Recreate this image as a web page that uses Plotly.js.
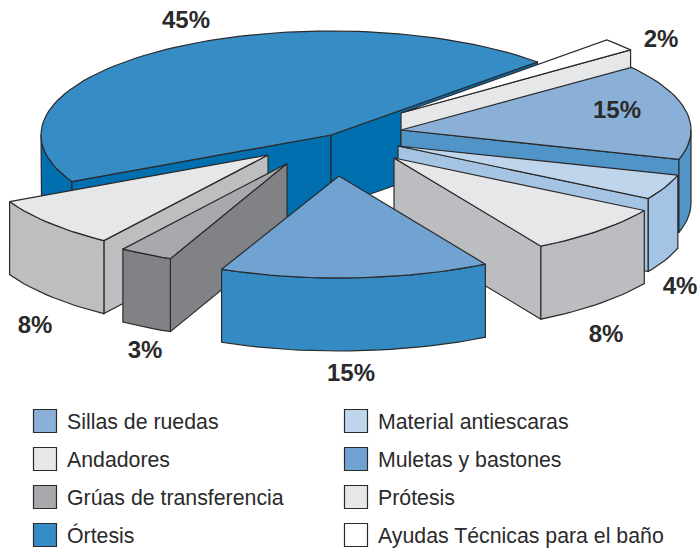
<!DOCTYPE html>
<html><head><meta charset="utf-8">
<script src="https://cdn.plot.ly/plotly-3.0.1.min.js"></script>
<style>html,body{margin:0;padding:0;background:#fff}</style></head>
<body><div id="chart" style="width:699px;height:549px"></div>
<script>
// Data, clockwise from the back edge of the largest slice
const categories = ["Órtesis","Ayudas Técnicas para el baño","Sillas de ruedas","Material antiescaras","Andadores","Muletas y bastones","Grúas de transferencia","Prótesis"];
const values = [45,2,15,4,8,15,3,8];
const percentLabels = ["45%","2%","15%","4%","8%","15%","3%","8%"];
const legendOrder = ["Sillas de ruedas","Andadores","Grúas de transferencia","Órtesis","Material antiescaras","Muletas y bastones","Prótesis","Ayudas Técnicas para el baño"];

// Styles and layout
const topColors  = ["#368cc4","#ffffff","#8ab0d7","#bfd5eb","#e6e7e9","#70a3d1","#a7a9ac","#e6e7e9"];
const wallColors = ["#006fb0","#e6e7e9","#5094c8","#a5c3e2","#bcbdc0","#348bc4","#808285","#bcbec0"];
const apexX = [331,401,401,398,394,339,287,268];
const apexY = [135,113,130,146,158,176,163.5,155];
const radiusX = [290,289,290,292,292,291,289,289];
const radiusY = [104,104,103,102,102,102,104,104];
const labelX = [186,661,617,680,606,351,145,35];
const labelY = [22,41,112,288,336,375,352,327];
const paintOrder = [0,1,2,3,4,7,6,5];
const DEPTH = 73, START_DEG = 206.6;
const INK = "#2b2a2b";

const rad = d => d*Math.PI/180;
const total = values.reduce((a,b)=>a+b,0);
let acc = START_DEG;
const spans = values.map(v => { const hi = acc; acc -= v/total*360; return [hi, acc]; });
const px = (i,a) => apexX[i] + radiusX[i]*Math.cos(rad(a));
const py = (i,a) => apexY[i] - radiusY[i]*Math.sin(rad(a));
const arc = (i,from,to) => {
  const n = Math.max(2, Math.ceil(Math.abs(from-to)/2)), xs=[], ys=[];
  for (let k=0;k<=n;k++){ const a = from+(to-from)*k/n; xs.push(px(i,a)); ys.push(py(i,a)); }
  return [xs,ys];
};
const poly = (xs,ys,fill) => ({type:"scatter",mode:"lines",x:[...xs,xs[0]],y:[...ys,ys[0]],fill:"toself",
  fillcolor:fill,line:{color:INK,width:1.2},hoverinfo:"skip",showlegend:false});

const traces = [];
paintOrder.forEach(i => {
  const [hi,lo] = spans[i];
  const wall = wallColors[i];
  // flat cut faces turned toward the viewer
  [[hi,90],[lo,-90]].forEach(([edge,turn]) => {
    if (Math.sin(rad(edge+turn)) < 0) {
      const X = px(i,edge), Y = py(i,edge);
      traces.push(poly([apexX[i],X,X,apexX[i]],[apexY[i],Y,Y+DEPTH,apexY[i]+DEPTH],wall));
    }
  });
  // curved rim where the arc lies on the front half
  [[-180,0],[180,360]].forEach(([f0,f1]) => {
    const s = Math.max(lo,f0), e = Math.min(hi,f1);
    if (e > s) {
      const [xs,ys] = arc(i,e,s);
      traces.push(poly([...xs,...xs.slice().reverse()],[...ys,...ys.slice().reverse().map(y=>y+DEPTH)],wall));
    }
  });
  // top face
  const [ax,ay] = arc(i,hi,lo);
  traces.push(poly([apexX[i],...ax],[apexY[i],...ay],topColors[i]));
});

// percent labels
traces.push({type:"scatter",mode:"text",x:labelX,y:labelY,text:percentLabels,textposition:"middle center",
  textfont:{family:"Liberation Sans",size:24,color:"#2b2a2b",weight:700},hoverinfo:"skip",showlegend:false});

// legend drawn as swatches and text
const legendX = [45,45,45,45,356,356,356,356];
const legendY = [421,459,497,535,421,459,497,535];
const swatchColors = legendOrder.map(n => topColors[categories.indexOf(n)]);
traces.push({type:"scatter",mode:"markers",x:legendX,y:legendY,
  marker:{symbol:"square",size:23,color:swatchColors,line:{color:INK,width:1.2}},hoverinfo:"skip",showlegend:false});
traces.push({type:"scatter",mode:"text",x:legendX.map(v=>v+22),y:legendY.map(v=>v+2.5),text:legendOrder,textposition:"middle right",
  textfont:{family:"Liberation Sans",size:21.3,color:"#2b2a2b"},hoverinfo:"skip",showlegend:false});

const hidden = {visible:false,fixedrange:true};
Plotly.newPlot("chart",traces,{
  width:699,height:549,margin:{l:0,r:0,t:0,b:0},showlegend:false,
  paper_bgcolor:"#fff",plot_bgcolor:"#fff",
  xaxis:{...hidden,range:[0,699]},yaxis:{...hidden,range:[549,0]}
},{displayModeBar:false,staticPlot:true});
</script></body></html>
